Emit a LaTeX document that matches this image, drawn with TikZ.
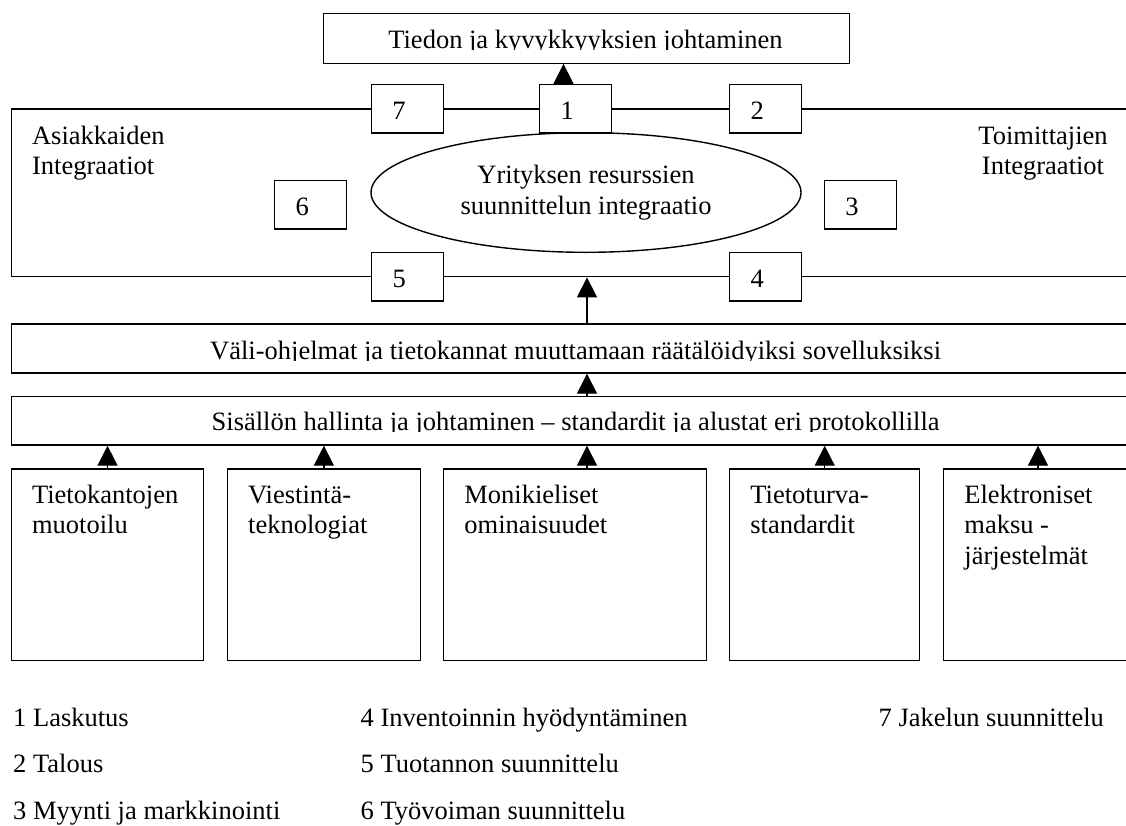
\documentclass[tikz,border=0pt]{standalone}
\usepackage{fontspec}
\setmainfont{Liberation Serif}
\usetikzlibrary{arrows.meta,shapes.geometric}
\begin{document}
\begin{tikzpicture}[x=1pt,y=-1pt,
  line width=1.4pt,
  every node/.style={font=\fontsize{26.5}{30.5}\selectfont},
  box/.style={draw,fill=white,rectangle,inner sep=0pt,anchor=north west},
  numbox/.style={box,minimum width=72pt,minimum height=48.3pt},
  colbox/.style={box,minimum height=191.7pt},
  lbl/.style={anchor=base west,inner sep=0pt,align=left},
  ctr/.style={anchor=base,inner sep=0pt,align=center},
  arr/.style={-{Triangle[width=20pt,length=20pt]}}
]
\useasboundingbox (0,0) rectangle (1126,825);
\clip (0,0) rectangle (1126,825);
\fill[white] (0,0) rectangle (1126,825);

% x positions of the connectors that are not centred on their boxes
\coordinate (tx) at (563.5,0);
\coordinate (ax) at (587,0);
\coordinate (ex) at (1038,0);

% top level
\node[box,minimum width=526pt,minimum height=50pt] (top) at (322.5,12.5) {};
\begin{scope}
  \clip (322.5,12.5) rectangle (848.6,49.8);
  \node[ctr] (toptxt) at (585.5,48.3) {Tiedon ja kyvykkyyksien johtaminen};
\end{scope}

% integration frame with the ERP ellipse
% (multi-line labels are anchored on the baseline of their last line)
\node[box,fill=none,minimum width=1200pt,minimum height=167.7pt] (integ) at (10.7,108.3) {};
\node[lbl] (asi) at (31.4,174.5) {Asiakkaiden\\Integraatiot};
\node[ctr] (toim) at (1043,174.5) {Toimittajien\\Integraatiot};
\node[draw,ellipse,fill=white,minimum width=430pt,minimum height=119.6pt,
      inner sep=0pt,align=center] (erp) at (586,192.5)
      {Yrityksen resurssien\\suunnittelun integraatio};

% numbered modules
\node[numbox] (b7) at (370.7,84) {};
\node[numbox] (b1) at (539,84) {};
\node[numbox] (b2) at (729,84) {};
\node[numbox] (b6) at (274,180) {};
\node[numbox] (b3) at (823.6,180) {};
\node[numbox] (b5) at (371,252) {};
\node[numbox] (b4) at (729,252) {};
\foreach \b/\t in {b7/7,b1/1,b2/2,b6/6,b3/3,b5/5,b4/4}
  \node[lbl] (\b t) at ([xshift=21pt,yshift=-35pt]\b.north west) {\t};

% middleware and content layers
\node[box,minimum width=1200pt,minimum height=49pt] (vali) at (10.7,323.3) {};
\begin{scope}
  \clip (10.7,323.3) rectangle (1126,360.8);
  \node[ctr] (valitxt) at (575.6,359.3)
    {Väli-ohjelmat ja tietokannat muuttamaan räätälöidyiksi sovelluksiksi};
\end{scope}
\node[box,minimum width=1200pt,minimum height=48.3pt] (sis) at (10.7,396) {};
\begin{scope}
  \clip (10.7,396) rectangle (1126,431.5);
  \node[ctr] (sistxt) at (575.6,430)
    {Sisällön hallinta ja johtaminen – standardit ja alustat eri protokollilla};
\end{scope}

% technology columns
\node[colbox,minimum width=192.3pt] (cA) at (10.7,468.3) {};
\node[colbox,minimum width=192.8pt] (cB) at (226.8,468.3) {};
\node[colbox,minimum width=262.7pt] (cC) at (443,468.3) {};
\node[colbox,minimum width=190pt] (cD) at (729,468.3) {};
\node[colbox,minimum width=190pt] (cE) at (943,468.3) {};
\node[lbl] (cAt) at ([xshift=20.7pt,yshift=-65.5pt]cA.north west) {Tietokantojen\\muotoilu};
\node[lbl] (cBt) at ([xshift=20.7pt,yshift=-65.5pt]cB.north west) {Viestintä-\\teknologiat};
\node[lbl] (cCt) at ([xshift=20.7pt,yshift=-65.5pt]cC.north west) {Monikieliset\\ominaisuudet};
\node[lbl] (cDt) at ([xshift=20.7pt,yshift=-65.5pt]cD.north west) {Tietoturva-\\standardit};
\node[lbl] (cEt) at ([xshift=20.7pt,yshift=-96pt]cE.north west) {Elektroniset\\maksu -\\järjestelmät};

% connectors
\draw[arr] (tx |- b1.north) -- (tx |- top.south);
\draw[arr] (ax |- vali.north) -- (ax |- integ.south);
\draw[arr] (ax |- sis.north) -- (ax |- vali.south);
\draw[arr] (cA.north) -- (cA.north |- sis.south);
\draw[arr] (cB.north) -- (cB.north |- sis.south);
\draw[arr] (ax |- cC.north) -- (ax |- sis.south);
\draw[arr] (cD.north) -- (cD.north |- sis.south);
\draw[arr] (ex |- cE.north) -- (ex |- sis.south);

% legend
\node[lbl] (l1) at (12.5,726) {1 Laskutus};
\node[lbl] (l2) at (12.5,772.7) {2 Talous};
\node[lbl] (l3) at (12.5,819.3) {3 Myynti ja markkinointi};
\node[lbl] (l4) at (360,726) {4 Inventoinnin hyödyntäminen};
\node[lbl] (l5) at (360,772.7) {5 Tuotannon suunnittelu};
\node[lbl] (l6) at (360,819.3) {6 Työvoiman suunnittelu};
\node[lbl] (l7) at (878,726) {7 Jakelun suunnittelu};
\end{tikzpicture}
\end{document}
